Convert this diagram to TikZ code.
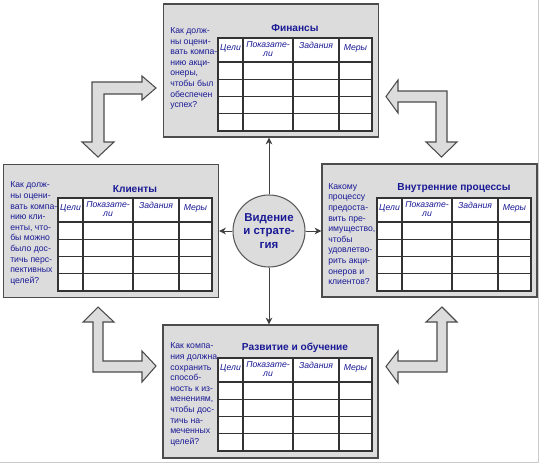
\documentclass[tikz,border=0pt]{standalone}
\usepackage{fontspec}
\setmainfont{Liberation Sans}
\usetikzlibrary{arrows.meta}
\definecolor{textblue}{RGB}{25,25,150}
\definecolor{boxgray}{RGB}{220,220,220}
\tikzset{ box_style/.style = { rectangle % perspective box
        , draw = black!70
        , line width = 1.1pt
        , fill = boxgray
        , minimum width = 161.25pt
        , minimum height = 99.75pt
        }
        , title_style/.style = { rectangle % box title
        , inner sep = 0pt
        , text = textblue
        , font = \fontsize{7.6}{9}\selectfont\bfseries
        }
        , q_style/.style = { rectangle % question text
        , inner sep = 0pt
        , anchor = west
        , align = left
        , text = textblue
        , font = \fontsize{6.5}{7.95}\selectfont
        }
        , head_style/.style = { rectangle % table header
        , inner sep = 0pt
        , align = center
        , text = textblue
        , font = \fontsize{6.5}{7.2}\selectfont\itshape
        }
        }

\begin{document}
\begin{tikzpicture}[x=0.75pt, y=-0.75pt,
        vis_style/.style={circle,draw=black!65,line width=0.8pt,fill=boxgray,minimum size=54pt,inner sep=0pt,align=center,text=textblue,font=\fontsize{8.6}{10}\selectfont\bfseries},
        table_style/.style={draw=black!80, line width=0.8pt},
        edge_style/.style={draw=black!75, line width=0.6pt,-{Stealth[length=5pt,width=5pt]}},
        block_style/.style={draw=black!70, line width=0.8pt, fill=boxgray, line join=miter},
        frame_style/.style={draw=black!20, line width=0.6pt}]
        \useasboundingbox (0,0) rectangle (540,465);
        \draw [frame_style] (538,0) -- (538,462) -- (0,462);

        \node [box_style](fin) at (271,70.5) {};
        \node [box_style](kli) at (111,231) {};
        \node [box_style](int) at (429.5,230.5) {};
        \node [box_style](dev) at (270.5,391.5) {};

        \foreach \b/\tx/\ty in {fin/218/38, kli/58/198, int/377/198, dev/218/358}{
            \fill [white] (\tx,\ty) rectangle (\tx+154,\ty+93);
            \foreach \dy in {24,41.25,58.5,75.75}
                \draw [table_style] (\tx,\ty+\dy) -- (\tx+154,\ty+\dy);
            \foreach \dx in {25,75,121}
                \draw [table_style] (\tx+\dx,\ty) -- (\tx+\dx,\ty+93);
            \draw [table_style] (\tx,\ty) rectangle (\tx+154,\ty+93);
            \node [head_style](\b-h1) at (\tx+12.5,\ty+10) {Цели};
            \node [head_style](\b-h2) at (\tx+50,\ty+11) {Показате-\\ли};
            \node [head_style](\b-h3) at (\tx+98,\ty+7) {Задания};
            \node [head_style](\b-h4) at (\tx+137.5,\ty+10) {Меры};
        }

        \node [title_style](fin-title) at (295,28) {Финансы};
        \node [title_style](kli-title) at (135,189) {Клиенты};
        \node [title_style](int-title) at (454,188) {Внутренние процессы};
        \node [title_style](dev-title) at (295,348) {Развитие и обучение};

        \node [q_style](fin-q) at (170,68.5) {Как долж-\\ны оцени-\\вать компа-\\нию акци-\\онеры,\\чтобы был\\обеспечен\\успех?};
        \node [q_style](kli-q) at (10,233.5) {Как долж-\\ны оцени-\\вать компа-\\нию кли-\\енты, что-\\бы можно\\было дос-\\тичь перс-\\пективных\\целей?};
        \node [q_style](int-q) at (328,234) {Какому\\процессу\\предоста-\\вить пре-\\имущество,\\чтобы\\удовлетво-\\рить акци-\\онеров и\\клиентов?};
        \node [q_style](dev-q) at (170,394.5) {Как компа-\\ния должна\\сохранить\\способ-\\ность к из-\\менениям,\\чтобы дос-\\тичь на-\\меченных\\целей?};

        \node [vis_style](vis) at (269,231) {Видение\\и страте-\\гия};
        \draw [edge_style] (vis) -- (vis |- fin.south);
        \draw [edge_style] (vis) -- (vis |- dev.north);
        \draw [edge_style] (vis) -- (vis -| kli.east);
        \draw [edge_style] (vis) -- (vis -| int.west);

        % block arrows between the boxes
        \draw [block_style] (92,82) -- (142,82) -- (142,76) -- (156,88) -- (142,100) -- (142,94)
            -- (104,94) -- (104,142) -- (114,142) -- (98,157) -- (82,142) -- (92,142) -- cycle;
        \draw [block_style] (447,91) -- (447,142) -- (457,142) -- (441.5,157) -- (426,142) -- (436,142)
            -- (436,102) -- (398,102) -- (398,113) -- (386,96.5) -- (398,80) -- (398,91) -- cycle;
        \draw [block_style] (93,372) -- (93,322) -- (83,322) -- (98,307) -- (114,322) -- (103,322)
            -- (103,361) -- (142,361) -- (142,351) -- (156,366) -- (142,382) -- (142,372) -- cycle;
        \draw [block_style] (447,372) -- (447,322) -- (457,322) -- (442,307) -- (426,322) -- (437,322)
            -- (437,361) -- (398,361) -- (398,351) -- (386,366.5) -- (398,383) -- (398,372) -- cycle;
\end{tikzpicture}
\end{document}
